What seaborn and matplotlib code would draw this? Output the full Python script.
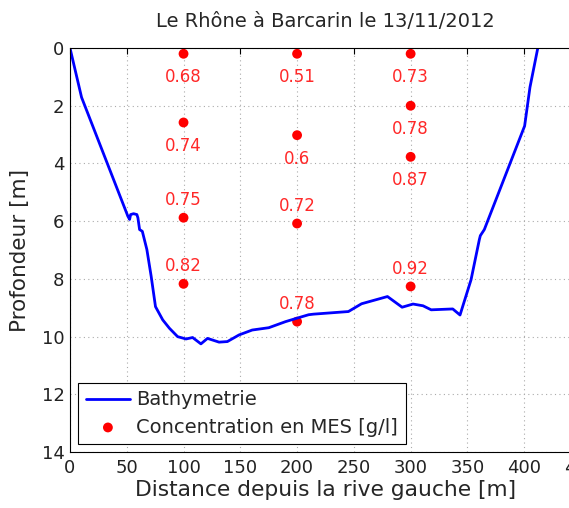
import matplotlib
matplotlib.use("Agg")
import matplotlib.pyplot as plt
import seaborn as sns
import pandas as pd

# Bathymetry profile
bathy_x = [0, 10.2, 51.0, 52.5, 53.4, 56.0, 58.9, 59.8, 61.3, 63.7, 67.7, 71.5, 75.3,
           81.7, 87.6, 94.8, 102.2, 108.0, 115.3, 121.1, 131.3, 138.6, 148.9, 160.5,
           175.1, 189.8, 199.9, 210.2, 214.5, 245.2, 256.8, 279.6, 292.5, 302.1, 310.9,
           318.1, 337.1, 343.5, 353.2, 360.5, 361.4, 364.9, 400.4, 405.1, 412.0]
bathy_depth = [0, 1.71, 5.83, 5.94, 5.77, 5.74, 5.77, 5.88, 6.29, 6.35, 6.98, 7.91, 8.96,
               9.42, 9.71, 10.0, 10.08, 10.03, 10.25, 10.06, 10.19, 10.17, 9.94, 9.77,
               9.69, 9.48, 9.36, 9.24, 9.22, 9.13, 8.86, 8.61, 8.98, 8.87, 8.93,
               9.07, 9.04, 9.25, 8.03, 6.64, 6.50, 6.29, 2.70, 1.36, 0.0]

# MES samples
mes_x = [100, 100, 100, 100, 200, 200, 200, 200, 300, 300, 300, 300]
mes_depth = [0.2, 2.58, 5.88, 8.17, 0.2, 3.02, 6.08, 9.48, 0.2, 2.0, 3.77, 8.26]
mes_conc = ["0.68", "0.74", "0.75", "0.82", "0.51", "0.6", "0.72", "0.78",
            "0.73", "0.78", "0.87", "0.92"]
label_side = ["below", "below", "above", "above", "below", "below", "above", "above",
              "below", "below", "below", "above"]

x_ticks = [0, 50, 100, 150, 200, 250, 300, 350, 400, 450]
y_ticks = [0, 2, 4, 6, 8, 10, 12, 14]

sns.set_style("white")
plt.rcParams['font.family'] = ['DejaVu Sans']

fig = plt.figure(figsize=(5.69, 5.08), dpi=100)
ax = fig.add_axes([0.123, 0.110, 1.021 - 0.123, 0.9055 - 0.110])

df_b = pd.DataFrame({"x": bathy_x, "depth": bathy_depth})
df_m = pd.DataFrame({"x": mes_x, "depth": mes_depth})

sns.lineplot(data=df_b, x="x", y="depth", sort=False, color="#0000ff", linewidth=2,
             ax=ax, label="Bathymetrie")
sns.scatterplot(data=df_m, x="x", y="depth", color="#ff0000", s=50, edgecolor="none",
                ax=ax, label="Concentration en MES [g/l]")

for xv, yv, txt, side in zip(mes_x, mes_depth, mes_conc, label_side):
    off = -17 if side == "below" else 12.5
    ax.annotate(txt, (xv, yv), xytext=(0, off), textcoords="offset points",
                ha="center", va="center", color="#ff2828", fontsize=12)

ax.set_xlim(0, 450)
ax.set_ylim(14, 0)
ax.set_xticks(x_ticks)
ax.set_yticks(y_ticks)
ax.tick_params(direction="in", length=4, width=0.8, labelsize=13, top=True, right=True,
               colors="black")
ax.tick_params(axis="x", pad=5)
ax.tick_params(axis="y", pad=4)
for lab in ax.get_xticklabels() + ax.get_yticklabels():
    lab.set_color("#222222")
ax.grid(True, linestyle=(0, (1, 3)), color="#aaaaaa", linewidth=0.8)
for s in ax.spines.values():
    s.set_color("black")
    s.set_linewidth(0.8)

ax.set_xlabel("Distance depuis la rive gauche [m]", fontsize=15.7, labelpad=2)
ax.set_ylabel("Profondeur [m]", fontsize=15.5, labelpad=8.5)
ax.set_title("Le Rhône à Barcarin le 13/11/2012", fontsize=14, pad=15)

leg = ax.legend(loc="lower left", fontsize=14, frameon=True, fancybox=False,
                edgecolor="black", borderaxespad=0.4, handlelength=2.3,
                borderpad=0.4, labelspacing=0.42, handletextpad=0.3)
leg.get_frame().set_linewidth(0.8)
leg.get_frame().set_alpha(1)

fig.savefig("out.png", dpi=100)
